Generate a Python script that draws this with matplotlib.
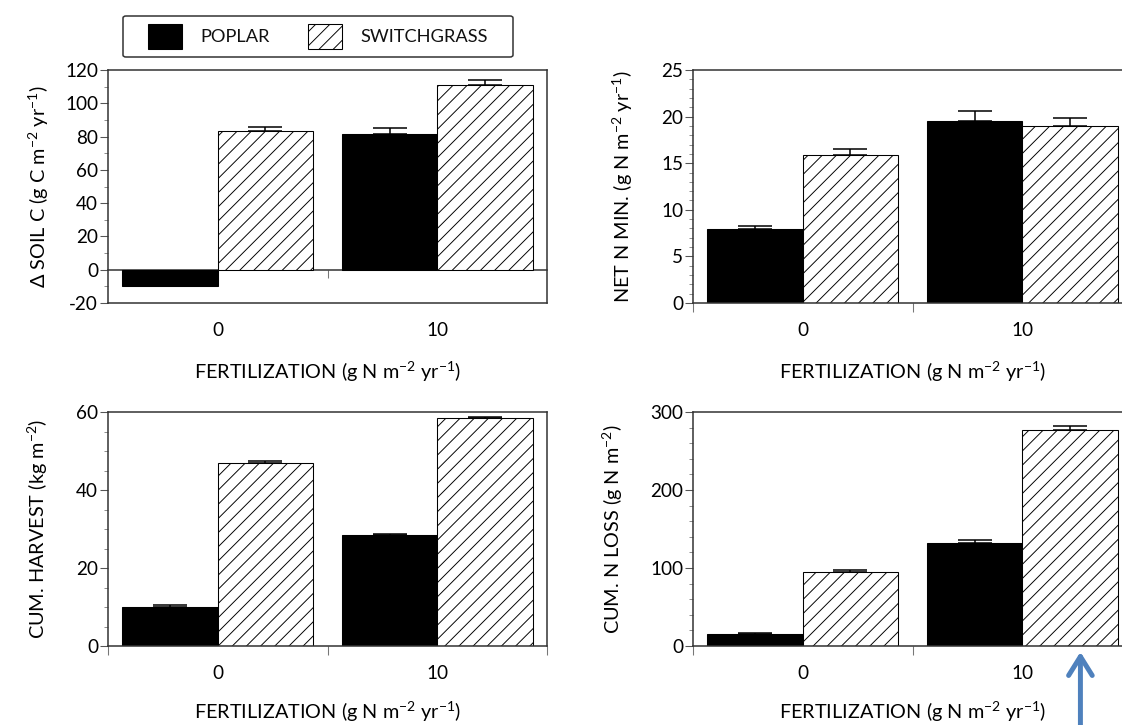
import numpy as np
import matplotlib
matplotlib.use('Agg')
import matplotlib.pyplot as plt
from matplotlib.patches import BoxStyle
from matplotlib.ticker import MultipleLocator

# Fertilization levels (g N m-2 yr-1) and the two crops
fert_levels = ['0', '10']
crops = ['POPLAR', 'SWITCHGRASS']

# Change in soil carbon (g C m-2 yr-1)
soil_c_poplar = [-10.0, 81.5]
soil_c_poplar_err = [0.0, 3.5]
soil_c_switch = [83.5, 111.0]
soil_c_switch_err = [2.0, 3.0]

# Net N mineralization (g N m-2 yr-1)
nmin_poplar = [7.9, 19.5]
nmin_poplar_err = [0.4, 1.1]
nmin_switch = [15.9, 19.0]
nmin_switch_err = [0.6, 0.9]

# Cumulative harvest (kg m-2)
harvest_poplar = [10.0, 28.4]
harvest_poplar_err = [0.6, 0.3]
harvest_switch = [47.0, 58.4]
harvest_switch_err = [0.4, 0.4]

# Cumulative N loss (g N m-2)
nloss_poplar = [15.0, 132.0]
nloss_poplar_err = [1.5, 4.0]
nloss_switch = [95.5, 277.5]
nloss_switch_err = [2.5, 4.0]

W, H, DPI = 1122, 725, 85
plt.rcParams['font.family'] = ['Lato', 'DejaVu Sans']
plt.rcParams['mathtext.fontset'] = 'custom'
plt.rcParams['mathtext.rm'] = 'Lato'
plt.rcParams['mathtext.it'] = 'Lato:italic'
plt.rcParams['mathtext.bf'] = 'Lato:bold'
plt.rcParams['axes.unicode_minus'] = False
plt.rcParams['hatch.linewidth'] = 0.8
plt.rcParams['text.color'] = '#111111'

fig = plt.figure(figsize=(W / DPI, H / DPI), dpi=DPI)

xlabel = 'FERTILIZATION (g N m$^{-2}$ yr$^{-1}$)'
spine_col = '#333333'
label_size = 16.8
tick_size = 16

panels = [
    dict(rect=(108, 70, 439, 233), ylabel='Δ SOIL C (g C m$^{-2}$ yr$^{-1}$)',
         ylim=(-20, 120), major=20, minor=10, xly=-0.245,
         p=soil_c_poplar, pe=soil_c_poplar_err, s=soil_c_switch, se=soil_c_switch_err, ylx=-0.13),
    dict(rect=(693, 70, 439, 233), ylabel='NET N MIN. (g N m$^{-2}$ yr$^{-1}$)',
         ylim=(0, 25), major=5, minor=1, xly=-0.245,
         p=nmin_poplar, pe=nmin_poplar_err, s=nmin_switch, se=nmin_switch_err, ylx=-0.132),
    dict(rect=(108, 412, 439, 234), ylabel='CUM. HARVEST (kg m$^{-2}$)',
         ylim=(0, 60), major=20, minor=5, xly=-0.232,
         p=harvest_poplar, pe=harvest_poplar_err, s=harvest_switch, se=harvest_switch_err, ylx=-0.132),
    dict(rect=(693, 412, 439, 234), ylabel='CUM. N LOSS (g N m$^{-2}$)',
         ylim=(0, 300), major=100, minor=20, xly=-0.232,
         p=nloss_poplar, pe=nloss_poplar_err, s=nloss_switch, se=nloss_switch_err, ylx=-0.155),
]

x = np.arange(len(fert_levels))
w = 0.434
axes = []
for cfg in panels:
    px, py, pw, ph = cfg['rect']
    ax = fig.add_axes([px / W, 1 - (py + ph) / H, pw / W, ph / H])
    axes.append(ax)

    ax.bar(x - w / 2, cfg['p'], w, color='black', edgecolor='black', lw=0.9, label=crops[0])
    ax.bar(x + w / 2, cfg['s'], w, color='white', edgecolor='black', hatch='//', lw=0.9,
           label=crops[1])
    for pos, vals, err in [(x - w / 2, cfg['p'], cfg['pe']), (x + w / 2, cfg['s'], cfg['se'])]:
        ax.errorbar(pos, vals, yerr=[np.zeros(len(err)), err], fmt='none', ecolor='black',
                    elinewidth=1.3, capsize=14.5, capthick=1.3, zorder=3)

    ax.set_xlim(-0.5, 1.5)
    ax.set_ylim(*cfg['ylim'])
    ax.yaxis.set_major_locator(MultipleLocator(cfg['major']))
    ax.yaxis.set_minor_locator(MultipleLocator(cfg['minor']))
    ax.tick_params(axis='y', which='major', direction='out', length=6.5, width=0.9,
                   color='#555555', labelsize=tick_size, pad=2)
    ax.tick_params(axis='y', which='minor', direction='out', length=3.5, width=0.8,
                   color='#888888')
    ax.set_xticks(x, fert_levels)
    ax.tick_params(axis='x', which='major', length=0, labelsize=tick_size, pad=16)

    for sp in ax.spines.values():
        sp.set_color(spine_col)
        sp.set_linewidth(1.3)

    if cfg['ylim'][0] < 0:
        # zero line carries the group separator ticks
        zero_ax = ax.secondary_xaxis(0, transform=ax.transData)
        zero_ax.set_xticks([0.5], [''])
        zero_ax.tick_params(length=7, width=0.9, color='#777777', direction='out')
        zero_ax.spines['bottom'].set_color(spine_col)
        zero_ax.spines['bottom'].set_linewidth(1.3)
    else:
        ax.set_xticks([-0.5, 0.5, 1.5], minor=True)
        ax.tick_params(axis='x', which='minor', length=7.5, width=0.9, color='#777777',
                       direction='out')

    ax.set_ylabel(cfg['ylabel'], fontsize=label_size)
    ax.yaxis.set_label_coords(cfg['ylx'], 0.5)
    ax.set_xlabel(xlabel, fontsize=label_size)
    ax.xaxis.set_label_coords(0.5, cfg['xly'])


def legend_frame(x0, y0, width, height, mutation_size):
    # wider side margins than the top/bottom ones
    dx = 0.93 * mutation_size
    return BoxStyle('round', pad=0, rounding_size=0.15)(x0 - dx, y0, width + 2 * dx, height,
                                                        mutation_size)


handles, labels = axes[0].get_legend_handles_labels()
leg = fig.legend(handles, labels, loc='center', bbox_to_anchor=(318 / W, 1 - 36.5 / H), ncol=2,
                 fontsize=15.5, handlelength=1.86, handleheight=1.8, handletextpad=1.0,
                 columnspacing=2.1, borderpad=0.44, framealpha=1, fancybox=True)
leg.get_frame().set_boxstyle(legend_frame)
leg.get_frame().set_edgecolor(spine_col)
leg.get_frame().set_linewidth(1.3)

# arrow pointing at the fertilized switchgrass bar
axes[3].annotate('', xy=(1.265, 0), xycoords='data', xytext=(0, -100), textcoords='offset points',
                 annotation_clip=False,
                 arrowprops=dict(arrowstyle='->,head_length=1.6,head_width=1.0', mutation_scale=10,
                                 lw=4.2, color='#4f81bd', shrinkA=0, shrinkB=5))

fig.savefig('out.png', dpi=DPI)
